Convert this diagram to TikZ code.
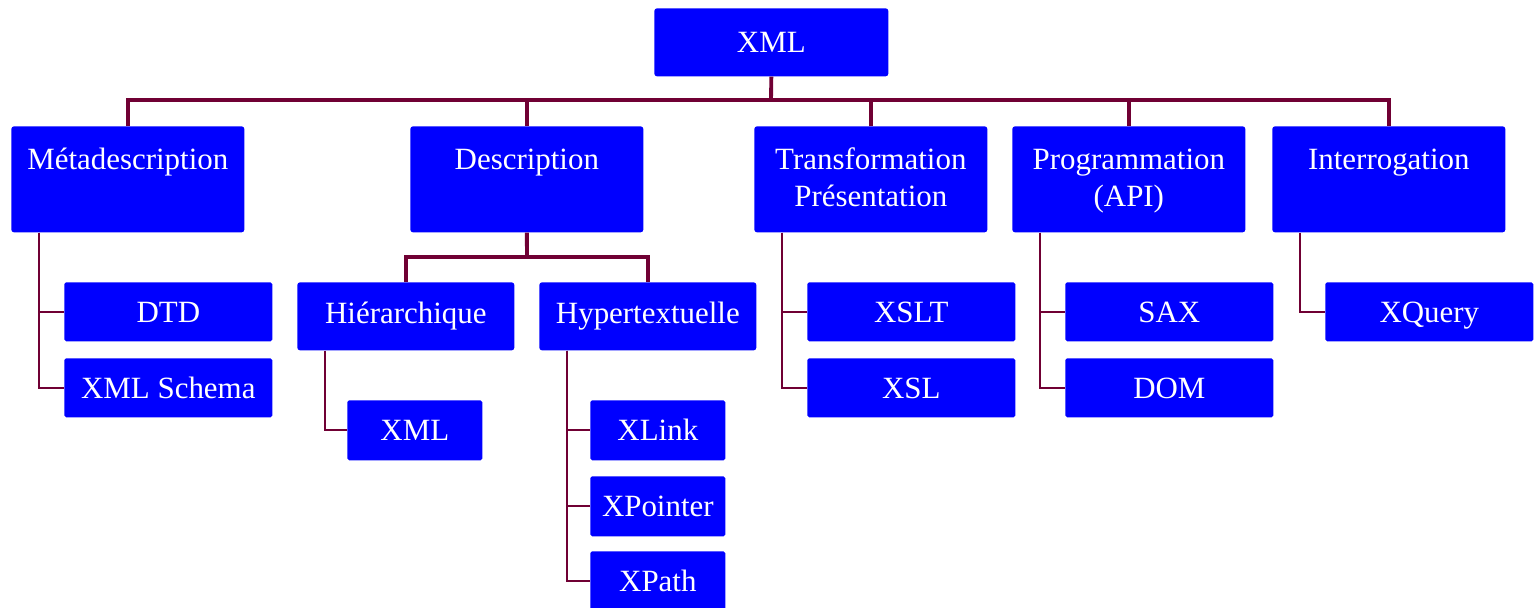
\documentclass[tikz,border=0pt]{standalone}
\usepackage{fontspec}
\setmainfont{Liberation Serif}
\usetikzlibrary{calc}
\definecolor{linkred}{RGB}{112,0,52}
\definecolor{boxblue}{RGB}{0,0,255}

\begin{document}
\begin{tikzpicture}[x=0.02cm,y=-0.02cm,
  box/.style={fill=boxblue,text=white,inner sep=0pt,rounded corners=1.5pt,anchor=north west,align=center,font=\fontsize{17.6}{21}\selectfont},
  rootbox/.style={box,minimum width=4.68cm,minimum height=1.36cm},
  topbox/.style={box,text width=4.66cm,text height=0.87cm,text depth=1.25cm},
  midbox/.style={box,minimum width=4.34cm,minimum height=1.36cm},
  leaf/.style={box,rounded corners=1pt,text height=0.42cm,text depth=0pt,minimum width=4.16cm,minimum height=1.18cm},
  smallleaf/.style={leaf,minimum width=2.7cm,minimum height=1.2cm},
  bus/.style={linkred,line width=2.2pt},
  twig/.style={linkred,line width=1.1pt}]
\useasboundingbox (0,0) rectangle (1534,608);

\node[rootbox] (root) at (654,8) {XML};

\node[topbox] (meta) at (11,126) {Métadescription};
\node[topbox] (desc) at (410,126) {Description};
\node[topbox] (trans) at (754,126) {Transformation\\Présentation};
\node[topbox] (prog) at (1012,126) {Programmation\\(API)};
\node[topbox] (quer) at (1272,126) {Interrogation};

\node[leaf] (dtd) at (64,282) {DTD};
\node[leaf] (xsd) at (64,358) {XML Schema};
\node[midbox] (hier) at (297,282) {Hiérarchique};
\node[midbox] (hyper) at (539,282) {Hypertextuelle};
\node[smallleaf] (xmldoc) at (347,400) {XML};
\node[smallleaf] (xlink) at (590,400) {XLink};
\node[smallleaf] (xpointer) at (590,476) {XPointer};
\node[smallleaf] (xpath) at (590,551) {XPath};
\node[leaf] (xslt) at (807,282) {XSLT};
\node[leaf] (xsl) at (807,358) {XSL};
\node[leaf] (sax) at (1065,282) {SAX};
\node[leaf] (dom) at (1065,358) {DOM};
\node[leaf] (xquery) at (1325,282) {XQuery};

\coordinate (bus) at (771,100);
\draw[bus] (root.south) -- (bus);
\foreach \n in {meta,desc,trans,prog,quer}
  \draw[bus] (\n.north) |- (bus);

\coordinate (descbus) at (527,257);
\draw[bus] (desc.south) -- (descbus);
\foreach \n in {hier,hyper}
  \draw[bus] (\n.north) |- (descbus);

\foreach \p/\c in {meta/dtd,meta/xsd,hier/xmldoc,hyper/xlink,hyper/xpointer,hyper/xpath,trans/xslt,trans/xsl,prog/sax,prog/dom,quer/xquery}
  \draw[twig] ($(\p.south west)+(28,0)$) |- (\c.west);
\end{tikzpicture}
\end{document}
